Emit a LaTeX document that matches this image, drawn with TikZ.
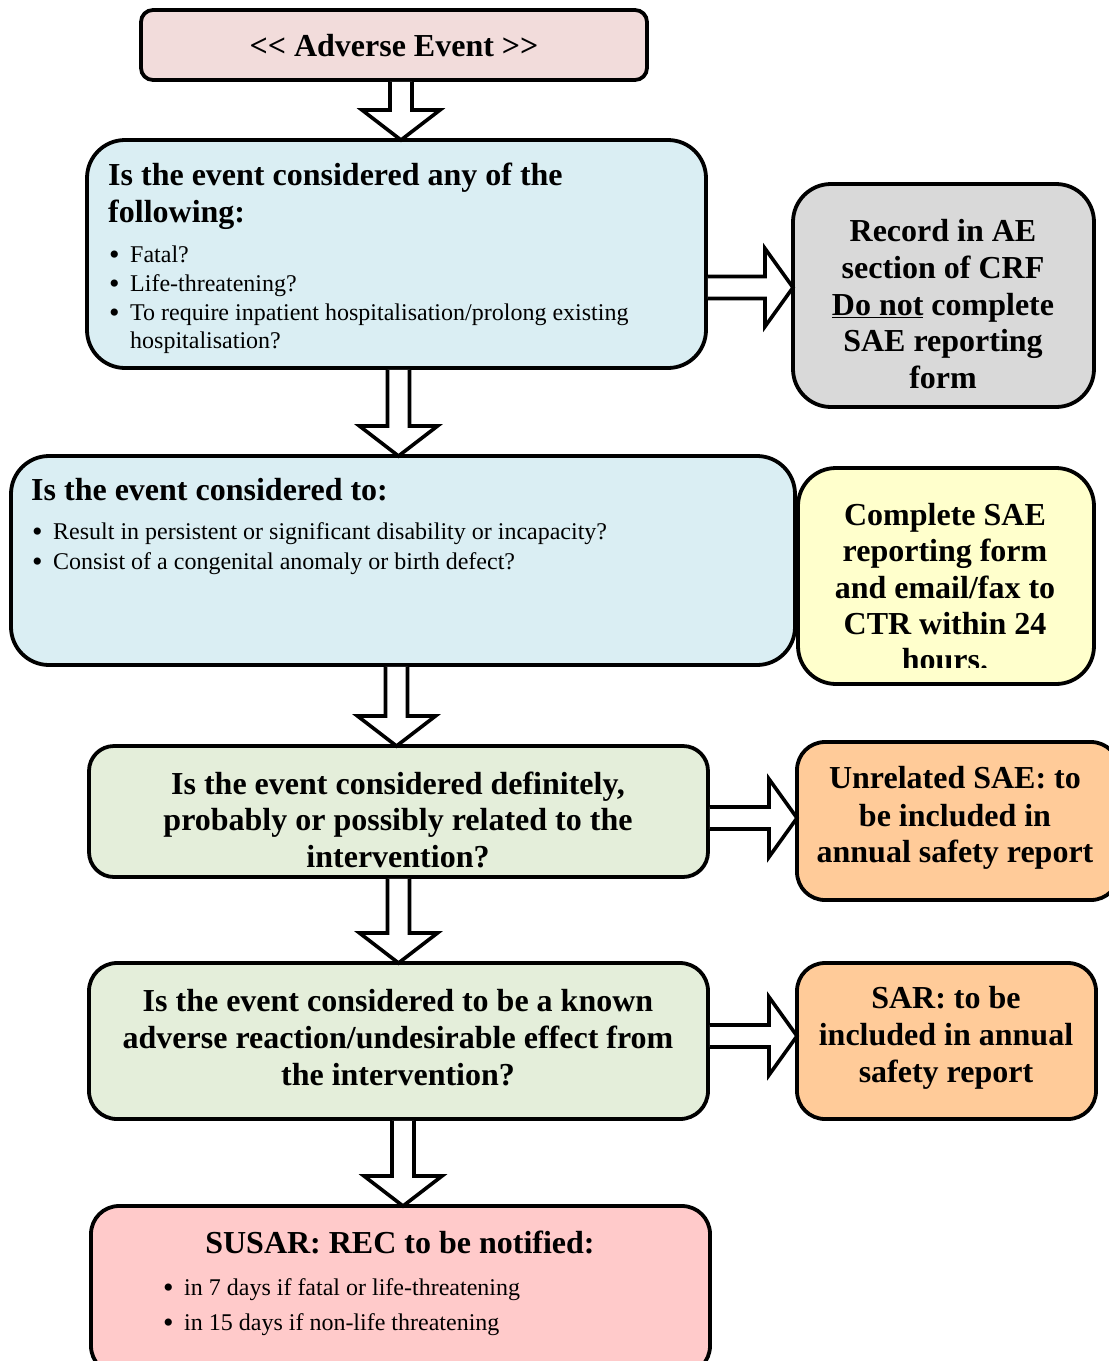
\documentclass[tikz,border=0pt]{standalone}
\usepackage{fontspec}
\setmainfont{Liberation Serif}
\usetikzlibrary{calc}
\definecolor{cAE}{HTML}{F2DCDB}
\definecolor{cBlue}{HTML}{DAEEF3}
\definecolor{cGrey}{HTML}{D9D9D9}
\definecolor{cYel}{HTML}{FFFFCC}
\definecolor{cGreen}{HTML}{E4EEDA}
\definecolor{cOr}{HTML}{FFCB99}
\definecolor{cSu}{HTML}{FFCACA}
\tikzset{
  box/.style={draw=black, line width=3.8pt, rounded corners=#1, inner sep=0pt, outer sep=0pt},
  box/.default=38pt,
  hd/.style={font=\fontsize{32}{37}\selectfont\bfseries, inner sep=0pt, anchor=base},
  hdl/.style={hd, anchor=base west},
  bl/.style={font=\fontsize{24}{28}\selectfont, inner sep=0pt, anchor=base west},
  barrow/.style={draw=black, fill=white, line width=3.6pt, line join=miter},
}
\newcommand\bdown[2]{%
 \draw[barrow] let \p1=#1, \p2=#2 in
  (\x1-11pt,\y1-1.9pt) -- (\x1-11pt,\y2+30pt) -- (\x1-39pt,\y2+30pt) -- (\x1,\y2) --
  (\x1+39pt,\y2+30pt) -- (\x1+11pt,\y2+30pt) -- (\x1+11pt,\y1-1.9pt);}
\newcommand\bright[2]{%
 \draw[barrow] let \p1=#1, \p2=#2 in
  (\x1+1.9pt,\y1+11pt) -- (\x2-28pt,\y1+11pt) -- (\x2-28pt,\y1+39pt) -- (\x2,\y1) --
  (\x2-28pt,\y1-39pt) -- (\x2-28pt,\y1-11pt) -- (\x1+1.9pt,\y1-11pt);}
\newcommand\bul{\makebox[21pt][l]{\raisebox{-0.1em}{\smash{\scalebox{1.25}{\textbullet}}}}}
\begin{document}
\begin{tikzpicture}[x=1pt,y=-1pt]
\useasboundingbox (0,0) rectangle (1109,1361);
\clip (0,0) rectangle (1109,1361);
\fill[white] (0,0) rectangle (1109,1361);
% boxes
\node[box=12pt, fill=cAE, minimum width=506pt, minimum height=70pt] (ae) at (394,45) {};
\node[box, fill=cBlue, minimum width=619pt, minimum height=228pt] (qa) at (396.5,254) {};
\node[box, fill=cGrey, minimum width=301pt, minimum height=223pt] (grey) at (943.5,295.5) {};
\node[box, fill=cBlue, minimum width=784pt, minimum height=209pt] (qb) at (403,560.5) {};
\node[box, fill=cYel, minimum width=296pt, minimum height=216pt] (yel) at (946,576) {};
\node[box=25pt, fill=cGreen, minimum width=619pt, minimum height=131pt] (qc) at (398.5,811.5) {};
\node[box=28pt, fill=cOr, minimum width=322pt, minimum height=158pt] (or1) at (958,821) {};
\node[box=28pt, fill=cGreen, minimum width=619pt, minimum height=156pt] (qd) at (398.5,1041) {};
\node[box=28pt, fill=cOr, minimum width=299pt, minimum height=156pt] (or2) at (946.5,1041) {};
\node[box=28pt, fill=cSu, minimum width=619pt, minimum height=168pt] (su) at (400.5,1290) {};
% texts
\node[hd] (t0) at (394,56.5) {{<}{<} Adverse Event {>}{>}};
\node[hdl] (ta1) at (108,185.5) {Is the event considered any of the};
\node[hdl] (ta2) at (108,222.5) {following:};
\node[bl] (ta3) at (109,262) {\bul Fatal?};
\node[bl] (ta4) at (109,291) {\bul Life-threatening?};
\node[bl] (ta5) at (109,320) {\bul To require inpatient hospitalisation/prolong existing};
\node[bl] (ta6) at (130,348) {hospitalisation?};
\node[hd] (tg1) at (943,241.5) {Record in AE};
\node[hd] (tg2) at (943,278.5) {section of CRF};
\node[hd] (tg3) at (943,315.5) {\underline{Do not} complete};
\node[hd] (tg4) at (943,351.5) {SAE reporting};
\node[hd] (tg5) at (943,388.5) {form};
\node[hdl] (tb1) at (31,500.5) {Is the event considered to:};
\node[bl] (tb2) at (32,539) {\bul Result in persistent or significant disability or incapacity?};
\node[bl] (tb3) at (32,569) {\bul Consist of a congenital anomaly or birth defect?};
\begin{scope}
\clip (797,469) rectangle (1095,667);
\node[hd] (ty1) at (945,525.5) {Complete SAE};
\node[hd] (ty2) at (945,561.5) {reporting form};
\node[hd] (ty3) at (945,598.5) {and email/fax to};
\node[hd] (ty4) at (945,634.5) {CTR within 24};
\node[hd] (ty5) at (945,670.5) {hours.};
\end{scope}
\node[hd] (tc1) at (398,794.5) {Is the event considered definitely,};
\node[hd] (tc2) at (398,830.5) {probably or possibly related to the};
\node[hd] (tc3) at (398,867.5) {intervention?};
\node[hd] (to1) at (955,788.5) {Unrelated SAE: to};
\node[hd] (to2) at (955,826.5) {be included in};
\node[hd] (to3) at (955,862.5) {annual safety report};
\node[hd] (td1) at (398,1011.5) {Is the event considered to be a known};
\node[hd] (td2) at (398,1048.5) {adverse reaction/undesirable effect from};
\node[hd] (td3) at (398,1085.5) {the intervention?};
\node[hd] (tr1) at (946,1008.5) {SAR: to be};
\node[hd] (tr2) at (946,1045.5) {included in annual};
\node[hd] (tr3) at (946,1082.5) {safety report};
\node[hd] (ts1) at (400,1253.5) {SUSAR: REC to be notified:};
\node[bl] (ts2) at (163,1295) {\bul in 7 days if fatal or life-threatening};
\node[bl] (ts3) at (163,1330) {\bul in 15 days if non-life threatening};
% block arrows
\bdown{(401,0 |- ae.south)}{(401,0 |- qa.north)}
\bdown{(398.5,0 |- qa.south)}{(398.5,0 |- qb.north)}
\bdown{(396.5,0 |- qb.south)}{(396.5,0 |- qc.north)}
\bdown{(398.5,0 |- qc.south)}{(398.5,0 |- qd.north)}
\bdown{(403,0 |- qd.south)}{(403,0 |- su.north)}
\bright{(qa.east |- 0,287.5)}{(grey.west |- 0,287.5)}
\bright{(qc.east |- 0,818)}{(or1.west |- 0,818)}
\bright{(qd.east |- 0,1036)}{(or2.west |- 0,1036)}
\end{tikzpicture}
\end{document}
